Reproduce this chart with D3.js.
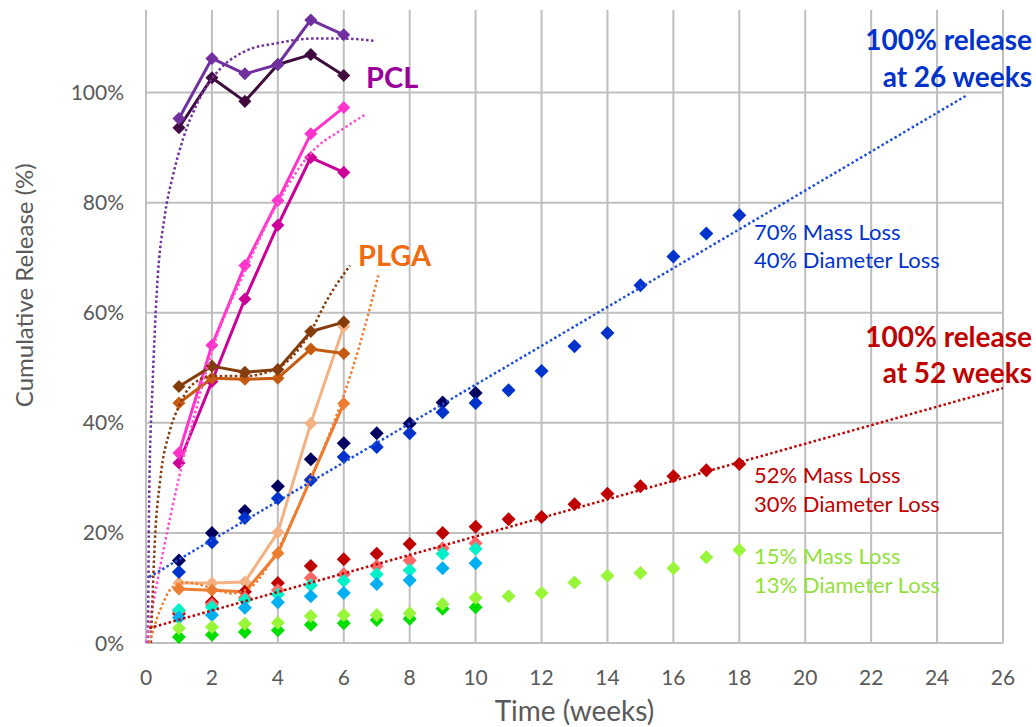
<!DOCTYPE html>
<html>
<head>
<meta charset="utf-8">
<script src="https://cdn.jsdelivr.net/npm/d3@7"></script>
<style>
  body { margin: 0; background: #fff; }
  svg { display: block; font-family: Lato, "Open Sans", sans-serif; }
</style>
</head>
<body>
<svg id="chart"></svg>
<script>
const width = 1036;
const height = 727;
const marginTop = 10;
const marginRight = 33;
const marginBottom = 84;
const marginLeft = 146;

// axis ticks
const xTicks = [0, 2, 4, 6, 8, 10, 12, 14, 16, 18, 20, 22, 24, 26];
const yTicks = [0, 20, 40, 60, 80, 100];

// weeks
const weeks6 = [1, 2, 3, 4, 5, 6];
const weeks10 = [1, 2, 3, 4, 5, 6, 7, 8, 9, 10];
const weeks18 = [1, 2, 3, 4, 5, 6, 7, 8, 9, 10, 11, 12, 13, 14, 15, 16, 17, 18];

// PCL (lines)
const pclPurple = [95.3, 106.2, 103.4, 105.1, 113.2, 110.5];
const pclPlum = [93.6, 102.7, 98.4, 105.1, 106.9, 103.1];
const pclPink = [34.5, 54.1, 68.6, 80.4, 92.5, 97.3];
const pclMagenta = [32.7, 47.5, 62.5, 75.9, 88.2, 85.5];

// PLGA (lines)
const plgaBrown = [46.6, 50.3, 49.2, 49.7, 56.6, 58.3];
const plgaRust = [43.6, 48.1, 47.9, 48.1, 53.4, 52.6];
const plgaPeach = [10.9, 10.9, 11.1, 20.1, 39.9, 57.5];
const plgaOrange = [9.8, 9.6, 9.3, 16.3, 29.8, 43.5];

// scatter series
const navyVals = [15.0, 20.0, 24.0, 28.5, 33.4, 36.3, 38.1, 39.9, 43.7, 45.4];
const blueVals = [12.9, 18.3, 22.7, 26.3, 29.6, 33.8, 35.6, 38.1, 41.9, 43.6, 45.9, 49.4, 53.9, 56.3, 65.0, 70.2, 74.4, 77.7];
const redVals = [5.3, 7.4, 9.3, 10.9, 14.0, 15.2, 16.2, 18.0, 20.0, 21.1, 22.5, 22.9, 25.2, 27.1, 28.5, 30.3, 31.4, 32.5];
const salmonVals = [5.8, 7.0, 8.2, 9.6, 11.8, 12.5, 14.0, 15.0, 17.2, 18.1];
const cyanVals = [6.0, 6.5, 7.8, 8.8, 10.5, 11.3, 12.5, 13.2, 16.2, 17.1];
const skyVals = [4.6, 5.1, 6.4, 7.4, 8.5, 9.1, 10.7, 11.4, 13.6, 14.5];
const greenVals = [1.1, 1.5, 2.0, 2.3, 3.3, 3.6, 4.2, 4.4, 6.2, 6.5];
const limeVals = [2.7, 2.9, 3.5, 3.7, 4.9, 5.1, 5.1, 5.4, 7.1, 8.2, 8.5, 9.1, 11.0, 12.2, 12.7, 13.6, 15.6, 16.9];

// trendlines
const pclTrendWeeks = [0.06, 0.1, 0.2, 0.33, 0.58, 0.82, 1.12, 1.55, 2, 3, 4, 5, 6, 6.9];
const pclTrendVals = [0, 28, 47, 64, 78, 85, 91.5, 98, 102.5, 107.5, 109, 109.8, 109.8, 109.4];
const pinkTrendWeeks = [0, 0.5, 1, 1.5, 2, 3, 4, 5, 6, 6.65];
const pinkTrendVals = [0, 16, 30, 42, 53, 67.5, 80, 89, 93.5, 96];
const brownTrendWeeks = [0.15, 0.27, 0.43, 0.73, 1, 1.33, 2, 3, 4, 4.97, 5.49, 6.19];
const brownTrendVals = [0, 18.7, 29.6, 38.7, 43, 46.5, 48.5, 48.5, 50, 56.3, 62.3, 68.6];
const orangeTrendWeeks = [0.1, 0.43, 0.82, 1.2, 2, 2.6, 3.2, 4, 5, 5.5, 6, 6.5, 7.05];
const orangeTrendVals = [0, 6, 10.2, 11, 10, 9, 10.3, 17, 30, 37, 45, 54.5, 66.8];
const blueTrendWeeks = [0.1, 24.9];
const blueTrendVals = [12, 99.5];
const redTrendWeeks = [0.1, 26];
const redTrendVals = [2.7, 46.3];

const zip = (ws, vs) => ws.map((w, i) => ({ w: w, v: vs[i] }));

const lineSeries = [
  { data: zip(weeks6, pclPlum), color: "#3f0b3f" },
  { data: zip(weeks6, pclPurple), color: "#7030a0" },
  { data: zip(weeks6, pclMagenta), color: "#cc0099" },
  { data: zip(weeks6, pclPink), color: "#ff33cc" },
  { data: zip(weeks6, plgaPeach), color: "#f4b183" },
  { data: zip(weeks6, plgaOrange), color: "#ed7d31" },
  { data: zip(weeks6, plgaRust), color: "#c55a11" },
  { data: zip(weeks6, plgaBrown), color: "#843c0c" },
];

const scatterSeries = [
  { data: zip(weeks10, navyVals), color: "#00005e" },
  { data: zip(weeks18, blueVals), color: "#0033cc" },
  { data: zip(weeks18, redVals), color: "#c00000" },
  { data: zip(weeks10, salmonVals), color: "#ff6666" },
  { data: zip(weeks10, cyanVals), color: "#00f0c8" },
  { data: zip(weeks10, skyVals), color: "#00b0f0" },
  { data: zip(weeks10, greenVals), color: "#00dd00" },
  { data: zip(weeks18, limeVals), color: "#99f53a" },
];

const trendSeries = [
  { data: zip(pclTrendWeeks, pclTrendVals), color: "#7030a0" },
  { data: zip(pinkTrendWeeks, pinkTrendVals), color: "#ff4fd0" },
  { data: zip(brownTrendWeeks, brownTrendVals), color: "#843c0c" },
  { data: zip(orangeTrendWeeks, orangeTrendVals), color: "#ed7d31" },
  { data: zip(blueTrendWeeks, blueTrendVals), color: "#1f4fd8" },
  { data: zip(redTrendWeeks, redTrendVals), color: "#c00000" },
];

const svg = d3.select("#chart").attr("width", width).attr("height", height);

const x = d3.scaleLinear().domain([0, 26]).range([marginLeft, width - marginRight]);
const y = d3.scaleLinear().domain([0, 115]).range([height - marginBottom, marginTop]);

// 网格
svg.append("g")
  .selectAll("line")
  .data(xTicks)
  .join("line")
  .attr("x1", d => x(d)).attr("x2", d => x(d))
  .attr("y1", y(0)).attr("y2", y(115))
  .attr("stroke", "#bfbfbf").attr("stroke-width", 2);

svg.append("g")
  .selectAll("line")
  .data(yTicks)
  .join("line")
  .attr("x1", x(0)).attr("x2", x(26))
  .attr("y1", d => y(d)).attr("y2", d => y(d))
  .attr("stroke", "#bfbfbf").attr("stroke-width", 2);

// tick labels
svg.append("g")
  .selectAll("text")
  .data(yTicks)
  .join("text")
  .attr("x", x(0) - 22)
  .attr("y", d => y(d))
  .attr("dy", "0.36em")
  .attr("text-anchor", "end")
  .attr("font-size", "21px")
  .attr("fill", "#595959")
  .text(d => d + "%");

svg.append("g")
  .selectAll("text")
  .data(xTicks)
  .join("text")
  .attr("x", d => x(d))
  .attr("y", y(0) + 42)
  .attr("text-anchor", "middle")
  .attr("font-size", "21px")
  .attr("fill", "#595959")
  .text(d => d);

// axis titles
svg.append("text")
  .attr("transform", `translate(${33},${y(65)}) rotate(-90)`)
  .attr("text-anchor", "middle")
  .attr("font-size", "24px")
  .attr("fill", "#595959")
  .text("Cumulative Release (%)");

svg.append("text")
  .attr("x", (x(0) + x(26)) / 2)
  .attr("y", 721)
  .attr("text-anchor", "middle")
  .attr("font-size", "28px")
  .attr("fill", "#595959")
  .text("Time (weeks)");

const line = d3.line().x(d => x(d.w)).y(d => y(d.v));
const diamond = size => d3.symbol(d3.symbolSquare, size);

// PCL / PLGA lines
lineSeries.forEach(s => {
  svg.append("path")
    .datum(s.data)
    .attr("fill", "none")
    .attr("stroke", s.color)
    .attr("stroke-width", 3)
    .attr("stroke-linejoin", "round")
    .attr("d", line);
  svg.append("g")
    .selectAll("path")
    .data(s.data)
    .join("path")
    .attr("d", diamond(85))
    .attr("transform", d => `translate(${x(d.w)},${y(d.v)}) rotate(45)`)
    .attr("fill", s.color);
});

// scatter markers
scatterSeries.forEach(s => {
  svg.append("g")
    .selectAll("path")
    .data(s.data)
    .join("path")
    .attr("d", diamond(98))
    .attr("transform", d => `translate(${x(d.w)},${y(d.v)}) rotate(45)`)
    .attr("fill", s.color);
});

// trendlines (dotted)
const trendLine = d3.line().x(d => x(d.w)).y(d => y(d.v)).curve(d3.curveMonotoneX);
trendSeries.forEach(s => {
  svg.append("path")
    .datum(s.data)
    .attr("fill", "none")
    .attr("stroke", s.color)
    .attr("stroke-width", 2.5)
    .attr("stroke-dasharray", "2.5 2.5")
    .attr("d", trendLine);
});

// annotations
svg.append("text")
  .attr("x", 366).attr("y", 88)
  .attr("font-size", "29px").attr("font-weight", "bold")
  .attr("fill", "#990099")
  .text("PCL");

svg.append("text")
  .attr("x", 358).attr("y", 266)
  .attr("font-size", "29px").attr("font-weight", "bold")
  .attr("fill", "#ee6c12")
  .text("PLGA");

const note = (lines, xPos, yPos, lineGap, size, weight, color, anchor) => {
  const t = svg.append("text")
    .attr("font-size", size)
    .attr("font-weight", weight)
    .attr("fill", color)
    .attr("text-anchor", anchor);
  lines.forEach((l, i) => {
    t.append("tspan").attr("x", xPos).attr("y", yPos + i * lineGap).text(l);
  });
};

note(["100% release", "at 26 weeks"], 1032, 50, 37, "28px", "bold", "#0033cc", "end");
note(["100% release", "at 52 weeks"], 1032, 347, 36, "28px", "bold", "#c00000", "end");
note(["70% Mass Loss", "40% Diameter Loss"], 754, 240, 28, "22px", "normal", "#0033cc", "start");
note(["52% Mass Loss", "30% Diameter Loss"], 754, 483, 29, "22px", "normal", "#c00000", "start");
note(["15% Mass Loss", "13% Diameter Loss"], 754, 564, 29, "22px", "normal", "#92e03a", "start");
</script>
</body>
</html>
